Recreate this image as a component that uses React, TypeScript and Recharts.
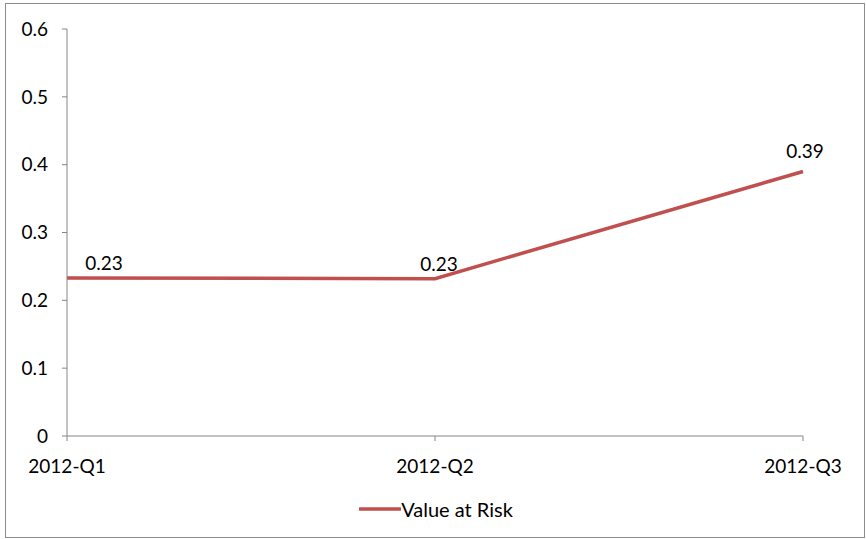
import { LineChart, Line, XAxis, YAxis, Legend, LabelList } from 'recharts';

const quarters = ['2012-Q1', '2012-Q2', '2012-Q3'];
const varValues = [0.233, 0.232, 0.39];
const yTicks = [0, 0.1, 0.2, 0.3, 0.4, 0.5, 0.6];

const data = quarters.map((q, i) => ({ name: q, value: varValues[i] }));

const FONT = 'Lato, "Noto Sans", sans-serif';
const RED = '#C0504D';
const AXIS = '#868686';

// point labels; the first one is nudged right so it clears the y axis
const PointLabel = (props: any) => {
  const { x, y, value, index } = props;
  const dx = index === 0 ? 37 : index === 2 ? 2 : 4;
  const dy = index === 2 ? -21 : -15;
  return (
    <text x={x + dx} y={y + dy} textAnchor="middle" dominantBaseline="central"
      fontSize={19} fontFamily={FONT} fill="#000">
      {Number(value).toFixed(2)}
    </text>
  );
};

const LegendContent = () => (
  <div style={{ display: 'flex', justifyContent: 'center', alignItems: 'center', fontFamily: FONT, fontSize: 20, color: '#000', paddingLeft: 2 }}>
    <svg width={42} height={10}>
      <line x1={1} y1={5} x2={41} y2={5} stroke={RED} strokeWidth={3.5} strokeLinecap="round" />
    </svg>
    <span>Value at Risk</span>
  </div>
);

export default function App() {
  return (
    <div style={{ position: 'absolute', left: 5, top: 3, width: 858, height: 533, border: '1px solid #8c8c8c', background: '#fff' }}>
      <LineChart width={858} height={533} data={data} margin={{ top: 25, right: 61, left: 0, bottom: 0 }}>
        <XAxis
          dataKey="name"
          height={77}
          stroke={AXIS}
          tickLine={{ stroke: AXIS }}
          tickSize={5}
          tickMargin={19}
          tick={{ fill: '#000', fontSize: 19, fontFamily: FONT }}
        />
        <YAxis
          width={61}
          domain={[0, 0.6]}
          ticks={yTicks}
          stroke={AXIS}
          tickSize={5}
          tickMargin={14}
          tickFormatter={(v: number) => (v === 0 ? '0' : String(v))}
          tick={{ fill: '#000', fontSize: 19, fontFamily: FONT }}
        />
        <Legend verticalAlign="bottom" wrapperStyle={{ bottom: 16, left: 0, width: 858 }} content={<LegendContent />} />
        <Line
          type="linear"
          dataKey="value"
          stroke={RED}
          strokeWidth={3.5}
          dot={false}
          activeDot={false}
          isAnimationActive={false}
        >
          <LabelList dataKey="value" content={<PointLabel />} />
        </Line>
      </LineChart>
    </div>
  );
}
